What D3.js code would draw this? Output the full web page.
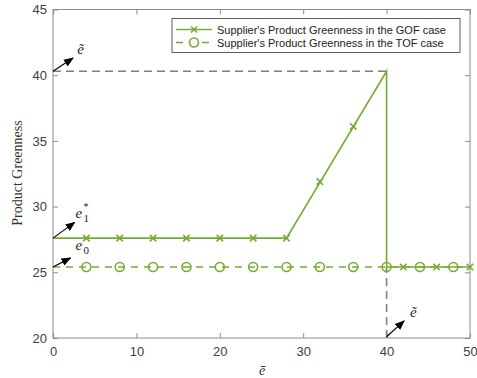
<!DOCTYPE html>
<html>
<head>
<meta charset="utf-8">
<script src="https://cdn.jsdelivr.net/npm/d3@7"></script>
<style>
  body { margin: 0; background: #fff; }
  svg { display: block; }
</style>
</head>
<body>
<div id="chart"></div>
<script>
// GOF line (solid) and its markers
var gofX = [0, 28, 40, 40, 50];
var gofY = [27.6, 27.6, 40.3, 25.4, 25.4];
var gofMarkX = [4, 8, 12, 16, 20, 24, 28, 32, 36, 42, 46, 50];
var gofMarkY = [27.6, 27.6, 27.6, 27.6, 27.6, 27.6, 27.6, 31.9, 36.1, 25.4, 25.4, 25.4];

// TOF line (dashed) and its markers
var tofX = [0, 50];
var tofY = [25.4, 25.4];
var tofMarkX = [4, 8, 12, 16, 20, 24, 28, 32, 36, 40, 44, 48];
var tofMarkY = [25.4, 25.4, 25.4, 25.4, 25.4, 25.4, 25.4, 25.4, 25.4, 25.4, 25.4, 25.4];

var xTicks = [0, 10, 20, 30, 40, 50];
var yTicks = [20, 25, 30, 35, 40, 45];
var eTilde = 40.3;
var legendLabels = ["Supplier's Product Greenness in the GOF case",
                    "Supplier's Product Greenness in the TOF case"];

var W = 477, H = 378;
var green = "#77ac30", grid = "#8c8c8c", txt = "#404040";

var svg = d3.select("#chart").append("svg")
  .attr("width", W).attr("height", H);

var x = d3.scaleLinear().domain([0, 50]).range([53, 470]);
var y = d3.scaleLinear().domain([20, 45]).range([338, 9.5]);

var defs = svg.append("defs");
defs.append("marker")
    .attr("id", "head")
    .attr("viewBox", "0 0 10 10")
    .attr("refX", 9).attr("refY", 5)
    .attr("markerWidth", 10).attr("markerHeight", 10)
    .attr("markerUnits", "userSpaceOnUse")
    .attr("orient", "auto")
  .append("path")
    .attr("d", "M0,1 L10,5 L0,9 Z")
    .attr("fill", "#000");

// axes box
svg.append("rect")
    .attr("x", x(0)).attr("y", y(45))
    .attr("width", x(50) - x(0)).attr("height", y(20) - y(45))
    .attr("fill", "#fff").attr("stroke", grid).attr("stroke-width", 1);

var xAx = svg.append("g").attr("transform", "translate(0," + y(20) + ")")
  .call(d3.axisBottom(x).tickValues(xTicks).tickSizeInner(-5).tickSizeOuter(0).tickPadding(9));
var xAxTop = svg.append("g").attr("transform", "translate(0," + y(45) + ")")
  .call(d3.axisTop(x).tickValues(xTicks).tickSizeInner(-5).tickSizeOuter(0).tickFormat(""));
var yAx = svg.append("g").attr("transform", "translate(" + x(0) + ",0)")
  .call(d3.axisLeft(y).tickValues(yTicks).tickSizeInner(-5).tickSizeOuter(0).tickPadding(6));
var yAxR = svg.append("g").attr("transform", "translate(" + x(50) + ",0)")
  .call(d3.axisRight(y).tickValues(yTicks).tickSizeInner(-5).tickSizeOuter(0).tickFormat(""));

[xAx, xAxTop, yAx, yAxR].forEach(function(a) {
  a.select(".domain").remove();
  a.selectAll("line").attr("stroke", grid);
  a.selectAll("text").attr("fill", txt)
    .style("font-family", "'Liberation Sans', Arial, sans-serif")
    .style("font-size", "13px");
});

// reference dashed lines at e-tilde
svg.append("line")
    .attr("x1", x(0)).attr("x2", x(40))
    .attr("y1", y(eTilde)).attr("y2", y(eTilde))
    .attr("stroke", "#7f7f7f").attr("stroke-width", 1.6)
    .attr("stroke-dasharray", "8,5");
svg.append("line")
    .attr("x1", x(40)).attr("x2", x(40))
    .attr("y1", y(20)).attr("y2", y(tofY[0]))
    .attr("stroke", "#7f7f7f").attr("stroke-width", 1.6)
    .attr("stroke-dasharray", "8,5");

var line = d3.line().x(function(d) { return x(d[0]); }).y(function(d) { return y(d[1]); });

// TOF dashed line
svg.append("path")
    .datum(d3.zip(tofX, tofY))
    .attr("d", line)
    .attr("fill", "none").attr("stroke", green).attr("stroke-width", 1.6)
    .attr("stroke-dasharray", "7,6");

// GOF solid line
svg.append("path")
    .datum(d3.zip(gofX, gofY))
    .attr("d", line)
    .attr("fill", "none").attr("stroke", green).attr("stroke-width", 1.6);

// markers
svg.selectAll(".tofm")
  .data(d3.zip(tofMarkX, tofMarkY))
  .enter().append("circle")
    .attr("class", "tofm")
    .attr("cx", function(d) { return x(d[0]); })
    .attr("cy", function(d) { return y(d[1]); })
    .attr("r", 4.5)
    .attr("fill", "none").attr("stroke", green).attr("stroke-width", 1.6);

function xMark(s) {
  return "M" + (-s) + "," + (-s) + "L" + s + "," + s + "M" + (-s) + "," + s + "L" + s + "," + (-s);
}
svg.selectAll(".gofm")
  .data(d3.zip(gofMarkX, gofMarkY))
  .enter().append("path")
    .attr("class", "gofm")
    .attr("transform", function(d) { return "translate(" + x(d[0]) + "," + y(d[1]) + ")"; })
    .attr("d", xMark(3.2))
    .attr("fill", "none").attr("stroke", green).attr("stroke-width", 1.6);

// annotations: arrows + italic labels
var annos = [
  {from: [0, eTilde], to: [2.4, 41.3], lab: [2.9, 41.6], base: "\u1EBD", sub: null, sup: null},
  {from: [0, 27.6], to: [2.6, 28.8], lab: [2.7, 29.1], base: "e", sub: "1", sup: "*"},
  {from: [0, 25.4], to: [2.1, 26.1], lab: [2.7, 26.7], base: "e", sub: "0", sup: null},
  {from: [40, 20.1], to: [42.1, 21.3], lab: [42.8, 21.6], base: "\u1EBD", sub: null, sup: null}
];
annos.forEach(function(a) {
  svg.append("line")
      .attr("x1", x(a.from[0])).attr("y1", y(a.from[1]))
      .attr("x2", x(a.to[0])).attr("y2", y(a.to[1]))
      .attr("stroke", "#000").attr("stroke-width", 1.2)
      .attr("marker-end", "url(#head)");
  var t = svg.append("text")
      .attr("x", x(a.lab[0])).attr("y", y(a.lab[1]))
      .style("font-family", "'Liberation Serif', 'DejaVu Serif', serif")
      .style("font-style", "italic").style("font-size", "15px")
      .attr("fill", "#222");
  t.append("tspan").text(a.base);
  if (a.sub) {
    var bx = x(a.lab[0]) + 8;
    t.append("tspan").attr("x", bx).attr("dy", 4).style("font-size", "11px").style("font-style", "normal").text(a.sub);
    if (a.sup) {
      t.append("tspan").attr("x", bx).attr("dy", -12).style("font-size", "10px").style("font-style", "normal").text(a.sup);
    }
  }
});

// axis labels
svg.append("text")
    .attr("transform", "translate(22," + 173 + ") rotate(-90)")
    .attr("text-anchor", "middle")
    .style("font-family", "'Liberation Serif', 'DejaVu Serif', serif")
    .style("font-size", "14px").attr("fill", "#333")
    .text("Product Greenness");
svg.append("text")
    .attr("x", 262).attr("y", 375)
    .attr("text-anchor", "middle")
    .style("font-family", "'Liberation Serif', 'DejaVu Serif', serif")
    .style("font-style", "italic").style("font-size", "14px").attr("fill", "#333")
    .text("\u0113");

// legend
var lg = svg.append("g").attr("transform", "translate(172,18.5)");
lg.append("rect")
    .attr("width", 288).attr("height", 34)
    .attr("fill", "#fff").attr("stroke", "#333").attr("stroke-width", 0.8);
legendLabels.forEach(function(l, i) {
  var yy = 11 + i * 13;
  var row = lg.append("g").attr("transform", "translate(0," + yy + ")");
  row.append("line").attr("x1", 4).attr("x2", 40).attr("y1", 0).attr("y2", 0)
    .attr("stroke", green).attr("stroke-width", 1.6)
    .attr("stroke-dasharray", i === 0 ? null : "7,6");
  if (i === 0) {
    row.append("path").attr("transform", "translate(22,0)").attr("d", xMark(3))
      .attr("fill", "none").attr("stroke", green).attr("stroke-width", 1.6);
  } else {
    row.append("circle").attr("cx", 22).attr("cy", 0).attr("r", 4.5)
      .attr("fill", "#fff").attr("stroke", green).attr("stroke-width", 1.6);
  }
  row.append("text").attr("x", 45).attr("y", 4)
    .style("font-family", "'Liberation Sans', Arial, sans-serif")
    .style("font-size", "11px").attr("fill", "#222")
    .text(l);
});
</script>
</body>
</html>
